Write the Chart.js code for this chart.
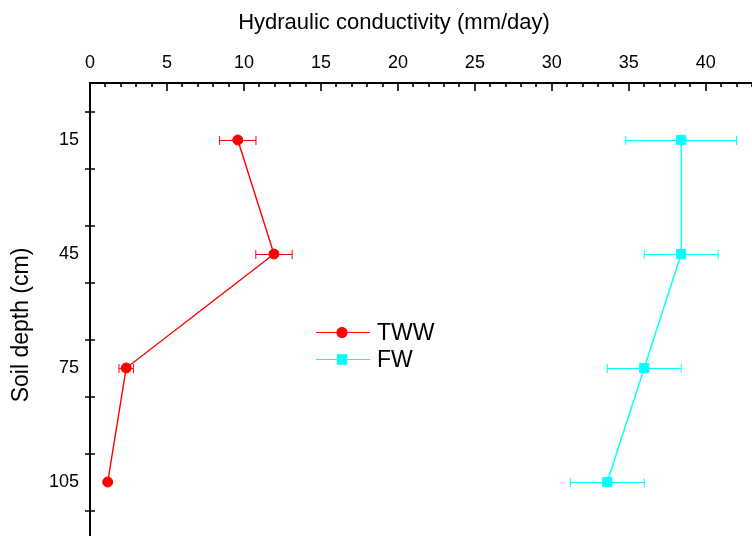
<!DOCTYPE html>
<html>
<head>
<meta charset="utf-8">
<script src="https://cdn.jsdelivr.net/npm/chart.js@4.4.1/dist/chart.umd.min.js"></script>
<style>
  html, body { margin: 0; padding: 0; background: #fff; overflow: hidden; }
  #wrap { width: 752px; height: 536px; }
</style>
</head>
<body>
<div id="wrap"><canvas id="chart" width="752" height="536"></canvas></div>
<script>
// soil depth (cm) and hydraulic conductivity (mm/day) with +/- error
const depths = [15, 45, 75, 105];
const twwK = [9.6, 11.95, 2.35, 1.15];
const twwErr = [1.18, 1.18, 0.47, 0];
const fwK = [38.4, 38.4, 36.0, 33.6];
const fwErr = [3.6, 2.4, 2.4, 2.4];

const kLabels = [0, 5, 10, 15, 20, 25, 30, 35, 40];
const depthLabels = [15, 45, 75, 105];
const depthMarks = [7.5, 22.5, 37.5, 52.5, 67.5, 82.5, 97.5, 112.5];

const FONT = "'Liberation Sans', Arial, sans-serif";
const RED = '#ff0000';
const CYAN = '#00ffff';

const toPoints = (xs) => xs.map((v, i) => ({ x: v, y: depths[i] }));

// fixed box sizes so the plot runs right up to the canvas edges
const fixBox = (size) => (scale) => {
  if (scale.isHorizontal()) scale.height = size; else scale.width = size;
  scale.paddingLeft = scale.paddingRight = scale.paddingTop = scale.paddingBottom = 0;
};

// horizontal error bars with end caps, drawn under the markers
const errorBars = {
  id: 'errorBars',
  beforeDatasetsDraw(chart) {
    const { ctx, scales: { x, y } } = chart;
    chart.data.datasets.forEach(ds => {
      ctx.save();
      ctx.strokeStyle = ds.borderColor;
      ctx.lineWidth = 1;
      ds.data.forEach((p, i) => {
        const e = ds.errors[i];
        if (!e) return;
        const x0 = x.getPixelForValue(p.x - e);
        const x1 = x.getPixelForValue(p.x + e);
        const py = Math.round(y.getPixelForValue(p.y)) + 0.5;
        ctx.beginPath();
        ctx.moveTo(x0, py); ctx.lineTo(x1, py);
        ctx.moveTo(x0, py - 4.5); ctx.lineTo(x0, py + 4.5);
        ctx.moveTo(x1, py - 4.5); ctx.lineTo(x1, py + 4.5);
        ctx.stroke();
      });
      ctx.restore();
    });
  }
};

// tick marks: top axis has major + minor ticks pointing in, depth axis ticks cross the line
const axisMarks = {
  id: 'axisMarks',
  afterDraw(chart) {
    const { ctx, chartArea, scales: { x, y } } = chart;
    ctx.save();
    ctx.strokeStyle = '#000';
    ctx.lineWidth = 1.6;
    ctx.beginPath();
    for (let v = Math.ceil(x.min); v <= x.max; v++) {
      const px = Math.round(x.getPixelForValue(v));
      const len = v % 5 === 0 ? 8 : 4;
      ctx.moveTo(px, chartArea.top);
      ctx.lineTo(px, chartArea.top + len);
    }
    depthMarks.forEach(d => {
      const py = Math.round(y.getPixelForValue(d));
      ctx.moveTo(chartArea.left - 5, py);
      ctx.lineTo(chartArea.left + 5, py);
    });
    ctx.stroke();
    ctx.restore();
  }
};

// axis titles
const axisTitles = {
  id: 'axisTitles',
  afterDraw(chart) {
    const { ctx } = chart;
    ctx.save();
    ctx.fillStyle = '#000';
    ctx.font = '22px ' + FONT;
    ctx.textAlign = 'center';
    ctx.textBaseline = 'alphabetic';
    ctx.fillText('Hydraulic conductivity (mm/day)', 394, 29);
    ctx.font = '23px ' + FONT;
    ctx.translate(28, 325);
    ctx.rotate(-Math.PI / 2);
    ctx.fillText('Soil depth (cm)', 0, 0);
    ctx.restore();
  }
};

// legend inside the plot: line, marker, label
const insideLegend = {
  id: 'insideLegend',
  afterDraw(chart) {
    const { ctx } = chart;
    const lx = 316, ly = 331.5, gap = 27.5;
    chart.data.datasets.forEach((ds, i) => {
      const yy = Math.round(ly + i * gap) + 0.5;
      ctx.save();
      ctx.strokeStyle = ds.borderColor;
      ctx.fillStyle = ds.backgroundColor;
      ctx.lineWidth = 1.2;
      ctx.beginPath();
      ctx.moveTo(lx, yy); ctx.lineTo(lx + 54, yy);
      ctx.stroke();
      Chart.helpers.drawPoint(ctx, {
        pointStyle: ds.pointStyle,
        radius: ds.pointRadius,
        borderWidth: 1
      }, lx + 26, yy);
      ctx.fillStyle = '#000';
      ctx.font = '23px ' + FONT;
      ctx.textBaseline = 'middle';
      ctx.fillText(ds.label, lx + 61, yy + 1);
      ctx.restore();
    });
  }
};

new Chart(document.getElementById('chart'), {
  type: 'scatter',
  data: {
    datasets: [
      {
        label: 'TWW',
        data: toPoints(twwK),
        errors: twwErr,
        showLine: true,
        borderColor: RED,
        backgroundColor: RED,
        borderWidth: 1.4,
        pointStyle: 'circle',
        pointRadius: 5,
        pointBorderWidth: 1
      },
      {
        label: 'FW',
        data: toPoints(fwK),
        errors: fwErr,
        showLine: true,
        borderColor: CYAN,
        backgroundColor: CYAN,
        borderWidth: 1.4,
        pointStyle: 'rect',
        pointRadius: 6.5,
        pointBorderWidth: 1
      }
    ]
  },
  options: {
    responsive: false,
    animation: false,
    devicePixelRatio: 1,
    layout: { padding: 0, autoPadding: false },
    plugins: {
      legend: { display: false },
      tooltip: { enabled: false }
    },
    scales: {
      x: {
        type: 'linear',
        position: 'top',
        min: 0,
        max: 43,
        afterBuildTicks: (scale) => { scale.ticks = kLabels.map(v => ({ value: v })); },
        afterFit: fixBox(83),
        grid: { display: false, drawTicks: false },
        border: { display: true, color: '#000', width: 2 },
        ticks: {
          color: '#000',
          padding: 9,
          maxRotation: 0,
          autoSkip: false,
          font: { family: FONT, size: 18 }
        }
      },
      y: {
        type: 'linear',
        reverse: true,
        min: 0,
        max: 119.2,
        afterBuildTicks: (scale) => { scale.ticks = depthLabels.map(v => ({ value: v })); },
        afterFit: fixBox(90),
        grid: { display: false, drawTicks: false },
        border: { display: true, color: '#000', width: 2 },
        ticks: {
          color: '#000',
          padding: 11,
          autoSkip: false,
          font: { family: FONT, size: 18 }
        }
      }
    }
  },
  plugins: [errorBars, axisMarks, axisTitles, insideLegend]
});
</script>
</body>
</html>
